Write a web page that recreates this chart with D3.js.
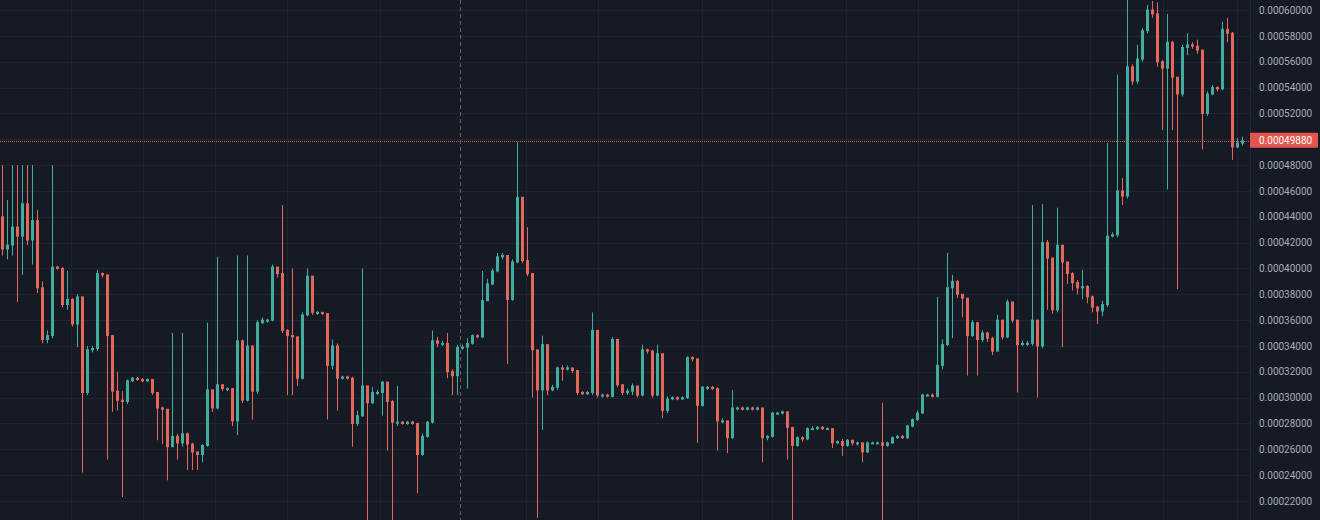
<!DOCTYPE html>
<html lang="en">
<head>
<meta charset="utf-8">
<title>Candles</title>
<script src="https://d3js.org/d3.v7.min.js"></script>
<style>
	html, body { margin: 0; padding: 0; background: #161a25; }
	svg { display: block; }
</style>
</head>
<body>
<script>
	// prices are kept in units of 0.000001
	var PRICE_UNIT = 1e-6;
	var firstOpen = 440;

	var closes = [
		415, 418, 432, 425, 450, 422, 437, 385, 345, 348,
		401, 400, 372, 376, 357, 378, 304, 337, 338, 396,
		395, 348, 305, 298, 297, 313, 315, 314, 313, 314,
		304, 292, 291, 262, 270, 265, 272, 264, 258, 256,
		263, 306, 292, 310, 307, 307, 282, 344, 298, 340,
		305, 358, 360, 360, 401, 396, 352, 348, 347, 315,
		364, 394, 366, 366, 365, 325, 340, 315, 316, 315,
		280, 286, 309, 296, 304, 304, 312, 297, 281, 281,
		280, 281, 280, 256, 270, 281, 344, 342, 342, 320,
		317, 339, 339, 342, 348, 347, 375, 388, 398, 409,
		410, 376, 405, 455, 406, 396, 337, 306, 341, 306,
		308, 323, 322, 323, 321, 304, 303, 304, 352, 302,
		302, 301, 345, 310, 304, 305, 309, 302, 337, 336,
		302, 334, 290, 299, 300, 299, 300, 331, 330, 294,
		308, 308, 307, 282, 282, 269, 292, 292, 291, 292,
		291, 292, 269, 270, 288, 288, 289, 277, 263, 269,
		268, 276, 276, 277, 276, 276, 265, 266, 263, 267,
		265, 265, 258, 265, 265, 265, 263, 265, 269, 270,
		269, 278, 283, 288, 302, 302, 301, 325, 341, 385,
		390, 380, 377, 348, 358, 345, 350, 346, 336, 360,
		347, 374, 360, 341, 342, 342, 360, 340, 420, 408,
		368, 418, 405, 396, 389, 385, 386, 378, 370, 367,
		372, 425, 426, 460, 456, 556, 545, 562, 584, 600,
		597, 560, 555, 575, 548, 535, 571, 573, 572, 569,
		520, 535, 540, 539, 585, 582, 494, 497, 498.8
	];

	var highs = [
		480, 453, 480, 480, 480, 480, 480, 445, 390, 352,
		480, 402, 401, 398, 377, 380, 378, 340, 340, 399,
		397, 395, 348, 320, 305, 314, 316, 316, 315, 315,
		314, 304, 293, 291, 350, 272, 350, 273, 265, 258,
		264, 358, 306, 409, 310, 308, 307, 410, 345, 410,
		340, 360, 362, 361, 403, 401, 449, 353, 400, 347,
		366, 400, 394, 367, 366, 365, 345, 342, 317, 317,
		316, 290, 400, 309, 308, 306, 313, 312, 298, 309,
		282, 282, 282, 280, 272, 282, 352, 347, 344, 350,
		322, 341, 341, 346, 349, 349, 398, 392, 400, 412,
		412, 410, 407, 498, 455, 432, 396, 337, 348, 341,
		310, 324, 325, 325, 323, 321, 305, 305, 366, 352,
		303, 303, 347, 345, 310, 307, 311, 309, 341, 338,
		337, 341, 334, 301, 301, 301, 301, 332, 332, 330,
		309, 309, 309, 308, 284, 282, 306, 293, 293, 293,
		293, 293, 292, 271, 289, 289, 290, 289, 277, 270,
		270, 277, 278, 278, 278, 277, 276, 267, 268, 268,
		267, 266, 265, 266, 266, 266, 296, 266, 270, 271,
		271, 279, 284, 290, 303, 303, 303, 378, 345, 412,
		395, 391, 380, 377, 360, 358, 352, 351, 347, 364,
		360, 376, 374, 360, 344, 344, 449, 360, 450, 422,
		408, 447, 418, 405, 397, 391, 399, 387, 379, 371,
		375, 497, 428, 550, 470, 610, 558, 573, 586, 604,
		607, 606, 561, 597, 576, 548, 573, 582, 575, 577,
		569, 537, 542, 541, 591, 594, 583, 501, 502
	];

	var lows = [
		410, 407, 410, 374, 395, 418, 403, 381, 342, 342,
		346, 399, 370, 368, 355, 339, 242, 302, 335, 336,
		393, 252, 289, 290, 223, 295, 312, 313, 312, 312,
		302, 267, 264, 236, 262, 252, 262, 244, 244, 244,
		250, 262, 289, 291, 305, 305, 278, 271, 296, 297,
		283, 303, 357, 358, 359, 393, 350, 302, 302, 309,
		314, 363, 364, 364, 364, 283, 322, 290, 314, 314,
		262, 278, 285, 200, 295, 302, 286, 259, 200, 278,
		279, 279, 279, 226, 255, 269, 280, 339, 340, 315,
		302, 302, 337, 307, 341, 346, 346, 375, 387, 397,
		407, 326, 375, 404, 404, 394, 300, 207, 275, 302,
		305, 306, 313, 321, 319, 302, 302, 302, 302, 300,
		300, 300, 300, 308, 302, 302, 302, 300, 301, 334,
		300, 301, 284, 288, 298, 298, 298, 299, 328, 265,
		293, 306, 306, 259, 280, 257, 268, 290, 290, 290,
		290, 290, 250, 267, 269, 287, 287, 252, 200, 262,
		266, 267, 275, 275, 275, 275, 261, 264, 255, 262,
		263, 263, 250, 257, 264, 264, 200, 262, 264, 268,
		268, 268, 277, 282, 288, 301, 300, 300, 322, 340,
		346, 377, 362, 317, 347, 317, 343, 343, 333, 336,
		345, 346, 358, 304, 340, 340, 340, 300, 338, 368,
		365, 366, 339, 388, 383, 380, 376, 373, 366, 357,
		363, 370, 424, 424, 449, 454, 542, 543, 560, 582,
		594, 556, 507, 461, 507, 384, 533, 565, 570, 566,
		492, 518, 534, 537, 538, 575, 484, 493, 495
	];

	var priceTicks = [
		0.00022, 0.00024, 0.00026, 0.00028, 0.0003, 0.00032, 0.00034, 0.00036, 0.00038, 0.0004,
		0.00042, 0.00044, 0.00046, 0.00048, 0.0005, 0.00052, 0.00054, 0.00056, 0.00058, 0.0006
	];
	// time grid lines, as candle index
	var timeGridAt = [13.7, 28.1, 42.5, 56.9, 75.5, 104.7, 119.1, 139.9, 153.9, 168.7, 183.1, 203.1, 217.5, 232.1, 246.9];
	var lastPrice = 0.0004988;
	var crosshairAt = 91.5;

	var w = 1320;
	var h = 520;
	var plotRight = 1250;

	var candles = closes.map(function(c, i) {
		var o = i === 0 ? firstOpen : closes[i - 1];
		return {
			i: i,
			o: o * PRICE_UNIT,
			c: c * PRICE_UNIT,
			h: highs[i] * PRICE_UNIT,
			l: lows[i] * PRICE_UNIT
		};
	});

	var x = d3.scaleLinear()
		.domain([0, candles.length - 1])
		.range([2.5, 2.5 + 5 * (candles.length - 1)]);

	var y = d3.scaleLinear()
		.domain([0.00022, 0.0006])
		.range([501, 10]);

	var svg = d3.select("body")
		.append("svg")
		.attr("width", w)
		.attr("height", h)
		.style("background", "#161a25");

	svg.append("defs").append("clipPath")
		.attr("id", "plot")
		.append("rect")
		.attr("x", 0).attr("y", 0)
		.attr("width", plotRight).attr("height", h);

	// grid
	svg.append("g")
		.selectAll("line")
		.data(priceTicks)
		.enter()
		.append("line")
		.attr("x1", 0)
		.attr("x2", plotRight)
		.attr("y1", function(d) { return Math.round(y(d)) + 0.5; })
		.attr("y2", function(d) { return Math.round(y(d)) + 0.5; })
		.attr("stroke", "#1f2431");

	svg.append("g")
		.selectAll("line")
		.data(timeGridAt)
		.enter()
		.append("line")
		.attr("x1", function(d) { return Math.round(x(d)) + 0.5; })
		.attr("x2", function(d) { return Math.round(x(d)) + 0.5; })
		.attr("y1", 0)
		.attr("y2", h)
		.attr("stroke", "#1f2431");

	// crosshair
	svg.append("line")
		.attr("x1", Math.round(x(crosshairAt)) + 0.5)
		.attr("x2", Math.round(x(crosshairAt)) + 0.5)
		.attr("y1", 0)
		.attr("y2", h)
		.attr("stroke", "#5d606b")
		.attr("stroke-dasharray", "4,3");

	var up = "#3fae9f";
	var down = "#e4675b";

	var plot = svg.append("g").attr("clip-path", "url(#plot)");

	plot.selectAll("line.wick")
		.data(candles)
		.enter()
		.append("line")
		.attr("class", "wick")
		.attr("x1", function(d) { return x(d.i); })
		.attr("x2", function(d) { return x(d.i); })
		.attr("y1", function(d) { return y(Math.max(d.h, d.o, d.c)); })
		.attr("y2", function(d) { return y(Math.min(d.l, d.o, d.c)); })
		.attr("stroke", function(d) { return d.c >= d.o ? up : down; })
		.attr("stroke-width", 1);

	plot.selectAll("rect.body")
		.data(candles)
		.enter()
		.append("rect")
		.attr("class", "body")
		.attr("x", function(d) { return x(d.i) - 1.5; })
		.attr("width", 3)
		.attr("y", function(d) { return y(Math.max(d.o, d.c)) - 0.5; })
		.attr("height", function(d) { return Math.max(2, Math.abs(y(d.o) - y(d.c)) + 1); })
		.attr("fill", function(d) { return d.c >= d.o ? up : down; });

	// last price line
	svg.append("line")
		.attr("x1", 0)
		.attr("x2", plotRight)
		.attr("y1", Math.round(y(lastPrice)) + 0.5)
		.attr("y2", Math.round(y(lastPrice)) + 0.5)
		.attr("stroke", "#d9574e")
		.attr("stroke-dasharray", "1,1");

	// price axis
	svg.append("line")
		.attr("x1", plotRight + 0.5)
		.attr("x2", plotRight + 0.5)
		.attr("y1", 0)
		.attr("y2", h)
		.attr("stroke", "#262a36");

	var axis = svg.append("g")
		.attr("transform", "translate(" + plotRight + ",0)")
		.call(d3.axisRight(y)
			.tickValues(priceTicks.filter(function(d) { return Math.abs(d - 0.0005) > 1e-9; }))
			.tickFormat(d3.format(".8f"))
			.tickSize(0)
			.tickPadding(9));

	axis.select(".domain").remove();
	axis.selectAll("text")
		.attr("fill", "#a9acb6")
		.style("font-family", "Roboto, 'Noto Sans', sans-serif")
		.style("font-size", "10px");

	var tag = svg.append("g")
		.attr("transform", "translate(" + plotRight + "," + y(lastPrice) + ")");

	tag.append("rect")
		.attr("x", 0)
		.attr("y", -8)
		.attr("width", 68)
		.attr("height", 15)
		.attr("rx", 1)
		.attr("fill", "#e4564d");

	tag.append("text")
		.attr("x", 9)
		.attr("y", 0)
		.attr("dy", "0.32em")
		.attr("fill", "#ffffff")
		.style("font-family", "Roboto, 'Noto Sans', sans-serif")
		.style("font-size", "10px")
		.text(d3.format(".8f")(lastPrice));
</script>
</body>
</html>
